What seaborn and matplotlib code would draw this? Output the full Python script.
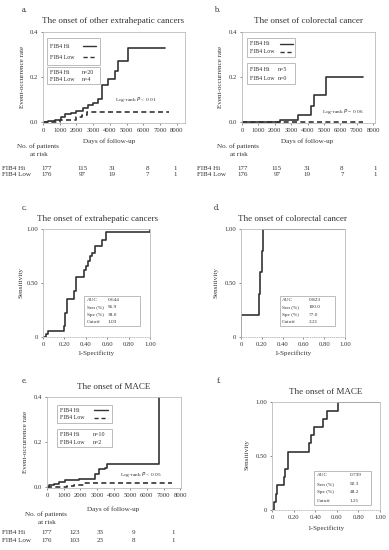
"""
FIB4 Hi / Low: KM 累积发生率曲线 + ROC 曲线 (六联图)
"""
import numpy as np
import pandas as pd
import matplotlib
matplotlib.use('Agg')
import matplotlib.pyplot as plt
import seaborn as sns
from matplotlib.patches import Rectangle
from matplotlib.lines import Line2D

sns.set_style("white")
plt.rcParams['font.family'] = ['Liberation Serif', 'DejaVu Serif']

TXT = '#333333'
LINE = '#333333'
FRAME = '#bbbbbb'

# ---- 数据 ----
km_days = [0, 1000, 2000, 3000, 4000, 5000, 6000, 7000, 8000]

# a. other extrahepatic cancers
a_hi_x = [0, 300, 700, 1100, 1300, 1700, 2000, 2400, 2700, 3000, 3300, 3500, 3900, 4300, 4500, 5100, 7300]
a_hi_y = [0, 0.005, 0.01, 0.02, 0.035, 0.04, 0.05, 0.06, 0.075, 0.085, 0.1, 0.165, 0.19, 0.225, 0.27, 0.33, 0.33]
a_low_x = [0, 1000, 2000, 2300, 2600, 7500]
a_low_y = [0, 0.008, 0.02, 0.03, 0.042, 0.042]

# b. colorectal cancer
b_hi_x = [0, 2300, 3400, 4200, 4400, 5100, 7400]
b_hi_y = [0, 0.01, 0.03, 0.07, 0.12, 0.2, 0.2]
b_low_x = [0, 7400]
b_low_y = [0, 0]

# e. MACE
e_hi_x = [0, 150, 400, 700, 1100, 1900, 2400, 2900, 3100, 3500, 3600, 6750, 6800]
e_hi_y = [0, 0.01, 0.015, 0.02, 0.03, 0.033, 0.037, 0.059, 0.078, 0.085, 0.1, 1.0, 1.0]
e_low_x = [0, 1200, 1600, 2200, 7500]
e_low_y = [0, 0.005, 0.01, 0.018, 0.018]

# ROC
c_fpr = [0, 0.02, 0.03, 0.05, 0.19, 0.2, 0.21, 0.22, 0.28, 0.29, 0.31, 0.37, 0.38, 0.4, 0.42, 0.44, 0.46, 0.49, 0.53, 0.55, 0.59, 0.95, 1.0]
c_tpr = [0, 0, 0.03, 0.06, 0.06, 0.1, 0.22, 0.35, 0.35, 0.43, 0.56, 0.56, 0.62, 0.66, 0.7, 0.75, 0.78, 0.84, 0.84, 0.9, 0.97, 0.97, 1.0]
d_fpr = [0, 0, 0.17, 0.18, 0.2, 0.21, 1.0]
d_tpr = [0, 0.2, 0.4, 0.6, 0.8, 1.0, 1.0]
f_fpr = [0, 0.02, 0.035, 0.05, 0.11, 0.12, 0.145, 0.345, 0.365, 0.39, 0.47, 0.51, 0.61, 1.0]
f_tpr = [0, 0.07, 0.15, 0.23, 0.31, 0.38, 0.54, 0.62, 0.69, 0.77, 0.84, 0.92, 1.0, 1.0]

roc_ticks = [0, 0.2, 0.4, 0.6, 0.8, 1.0]
roc_xlabels = ['0', '0.20', '0.40', '0.60', '0.80', '1.00']
stat_names = ['AUC', 'Sen (%)', 'Spe (%)', 'Cutoff']
c_stats = ['0.644', '96.9', '38.0', '1.03']
d_stats = ['0.823', '100.0', '77.0', '2.21']
f_stats = ['0.739', '92.3', '48.2', '1.21']

risk_groups = ['FIB4 Hi', 'FIB4 Low']
a_risk = [[177, 115, 31, 8, 1], [176, 97, 19, 7, 1]]
b_risk = [[177, 115, 31, 8, 1], [176, 97, 19, 7, 1]]
e_risk = [[177, 123, 33, 9, 1], [176, 103, 23, 8, 1]]

# ---- 字号 ----
TITLE = 6.5
LETTER = 6.0
TICK = 4.8
LAB = 5.1
LEG = 4.3
TAB = 5.0
STAT = 3.8
PTXT = 3.9

# ---- 画布 (像素坐标辅助) ----
W, H = 389, 550
fig = plt.figure(figsize=(W / 100, H / 100), dpi=100)


def fx(x):
    return x / W


def fy(y):
    return 1 - y / H


def add_ax(l, t, r, b):
    return fig.add_axes([fx(l), fy(b), (r - l) / W, (b - t) / H])


def put(x, y, s, size=LAB, ha='left', va='center', **kw):
    fig.text(fx(x), fy(y), s, fontsize=size, ha=ha, va=va, color=TXT, **kw)


def box(l, t, r, b):
    fig.add_artist(Rectangle((fx(l), fy(b)), (r - l) / W, (b - t) / H,
                             transform=fig.transFigure, fill=False, ec=FRAME, lw=0.7))


def sample(x0, x1, y, ls):
    fig.add_artist(Line2D([fx(x0), fx(x1)], [fy(y), fy(y)], transform=fig.transFigure,
                          color=LINE, lw=1.0, ls=ls))


def curve(ax, x, y, ls='-'):
    sns.lineplot(x=x, y=y, ax=ax, drawstyle='steps-post', estimator=None, sort=False,
                 color=LINE, lw=1.2, linestyle=ls)


def style_ax(ax):
    for s in ax.spines.values():
        s.set_color(FRAME)
        s.set_linewidth(0.6)
    ax.tick_params(axis='both', labelsize=TICK, colors=TXT, length=1.5, width=0.4,
                   pad=2, left=True, bottom=True)
    ax.set_xlabel('')
    ax.set_ylabel('')


def km_panel(box_px, hi_x, hi_y, low_x, low_y, xmax, ptxt, px, py):
    ax = add_ax(*box_px)
    curve(ax, hi_x, hi_y)
    curve(ax, low_x, low_y, ls=(0, (3, 2)))
    ax.set_xlim(0, xmax)
    ax.set_ylim(-0.005, 0.4)
    ax.set_xticks(km_days)
    ax.set_yticks([0, 0.2, 0.4])
    ax.set_yticklabels(['0.0', '0.2', '0.4'])
    style_ax(ax)
    ax.text(px, py, ptxt, fontsize=PTXT, color=TXT, va='center')
    return ax


def roc_panel(box_px, fpr, tpr):
    ax = add_ax(*box_px)
    curve(ax, fpr, tpr)
    ax.set_xlim(0, 1)
    ax.set_ylim(0, 1)
    ax.set_xticks(roc_ticks)
    ax.set_xticklabels(roc_xlabels)
    ax.set_yticks([0, 0.5, 1.0])
    ax.set_yticklabels(['0', '0.50', '1.00'])
    style_ax(ax)
    ax.spines['bottom'].set_linestyle(':')
    return ax


def legend_boxes(l, r, t1, b1, t2, b2, tx, lx0, lx1, nx, ns):
    box(l, t1, r, b1)
    ys = [t1 + (b1 - t1) * 0.3, t1 + (b1 - t1) * 0.72]
    for g, y, ls in zip(risk_groups, ys, ['-', (0, (3, 2))]):
        put(tx, y, g, size=LEG)
        sample(lx0, lx1, y, ls)
    box(l, t2, r, b2)
    ys = [t2 + (b2 - t2) * 0.3, t2 + (b2 - t2) * 0.75]
    for g, y, n in zip(risk_groups, ys, ns):
        put(tx, y, g, size=LEG)
        put(nx, y, f'n={n}', size=LEG)


def risk_table(lx, cols, y_head, y_rows, x_days, x_hdr, rows):
    put(x_days, y_head, 'Days of follow-up', ha='center')
    put(x_hdr, y_head + 5, 'No. of patients', ha='center')
    put(x_hdr + 1, y_head + 13, 'at risk', ha='center')
    for g, y, vals in zip(risk_groups, y_rows, rows):
        put(lx, y, g, size=TAB)
        for x, v in zip(cols, vals):
            put(x, y, str(v), size=TAB, ha='center')


def stats_box(l, t, r, b, lx, vx, vals):
    box(l, t, r, b)
    step = (b - t) / 4
    for i, (n, v) in enumerate(zip(stat_names, vals)):
        y = t + step * (i + 0.5)
        put(lx, y, n, size=STAT)
        put(vx, y, v, size=STAT)


# a.
put(22, 10, 'a.', size=LETTER)
put(113, 21, 'The onset of other extrahepatic cancers', size=TITLE, ha='center')
km_panel((43, 32, 185, 123), a_hi_x, a_hi_y, a_low_x, a_low_y, 8480,
         'Log-rank $P$ < 0.01', 4300, 0.1)
put(22, 77, 'Event-occurrence rate', ha='center', rotation=90)
legend_boxes(47, 100, 38, 65, 67, 84, 50, 83, 96, 82, [20, 4])
risk_table(2, [47, 82, 112, 147, 175], 141, [168, 174], 109, 38, a_risk)

# b.
put(214, 10, 'b.', size=LETTER)
put(308, 21, 'The onset of colorectal cancer', size=TITLE, ha='center')
km_panel((242, 32, 375, 123), b_hi_x, b_hi_y, b_low_x, b_low_y, 8120,
         'Log-rank $P$ = 0.06', 4900, 0.044)
put(221, 77, 'Event-occurrence rate', ha='center', rotation=90)
legend_boxes(247, 295, 38, 57, 63, 84, 250, 280, 293, 278, [5, 0])
risk_table(197, [243, 277, 307, 342, 375], 141, [168, 174], 307, 238, b_risk)

# c.
put(22, 208, 'c.', size=LETTER)
put(98, 219, 'The onset of extrahepatic cancers', size=TITLE, ha='center')
roc_panel((43, 229, 150, 337), c_fpr, c_tpr)
put(21, 283, 'Sensitivity', ha='center', rotation=90)
put(96, 353, '1-Specificity', ha='center')
stats_box(84, 296, 140, 326, 87, 108, c_stats)

# d.
put(214, 208, 'd.', size=LETTER)
put(292, 219, 'The onset of colorectal cancer', size=TITLE, ha='center')
roc_panel((241, 229, 345, 337), d_fpr, d_tpr)
put(216, 283, 'Sensitivity', ha='center', rotation=90)
put(293, 353, '1-Specificity', ha='center')
stats_box(280, 296, 335, 326, 282, 309, d_stats)

# e.
put(22, 381, 'e.', size=LETTER)
put(114, 387, 'The onset of MACE', size=TITLE, ha='center')
km_panel((47, 397, 181, 488), e_hi_x, e_hi_y, e_low_x, e_low_y, 8050,
         'Log-rank $P$ < 0.05', 4400, 0.057)
put(26, 442, 'Event-occurrence rate', ha='center', rotation=90)
legend_boxes(57, 112, 405, 423, 429, 447, 60, 94, 108, 93, [10, 2])
risk_table(2, [47, 75, 100, 133, 173], 509, [532, 540], 113, 46, e_risk)

# f.
put(217, 381, 'f.', size=LETTER)
put(326, 392, 'The onset of MACE', size=TITLE, ha='center')
roc_panel((272, 402, 380, 510), f_fpr, f_tpr)
put(247, 455, 'Sensitivity', ha='center', rotation=90)
put(326, 528, '1-Specificity', ha='center')
stats_box(314, 471, 371, 505, 317, 350, f_stats)

fig.savefig('out.png', dpi=100)
